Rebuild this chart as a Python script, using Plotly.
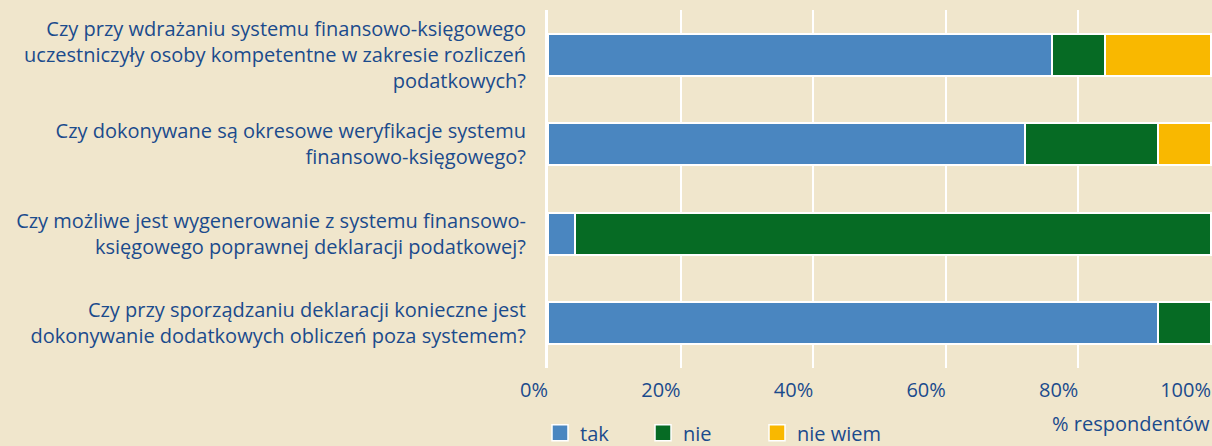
import plotly.graph_objects as go

categories = [
    "Czy przy wdrażaniu systemu finansowo-księgowego<br>uczestniczyły osoby kompetentne w zakresie rozliczeń<br>podatkowych?",
    "Czy dokonywane są okresowe weryfikacje systemu<br>finansowo-księgowego?",
    "Czy możliwe jest wygenerowanie z systemu finansowo-<br>księgowego poprawnej deklaracji podatkowej?",
    "Czy przy sporządzaniu deklaracji konieczne jest<br>dokonywanie dodatkowych obliczeń poza systemem?",
]
tak = [76, 72, 4, 92]
nie = [8, 20, 96, 8]
nie_wiem = [16, 8, 0, 0]
series_names = ["tak", "nie", "nie wiem"]
x_ticks = [0, 20, 40, 60, 80, 100]
x_tick_labels = ["0%", "20%", "40%", "60%", "80%", "100%"]
x_title = "% respondentów"

colors = ["#4A86C0", "#066B24", "#F9B800"]
bg = "#F0E6CC"
txt = "#1B4B8C"
font_family = "'Open Sans', 'Noto Sans', sans-serif"
fs = 20

fig = go.Figure()
for name, vals, col in zip(series_names, [tak, nie, nie_wiem], colors):
    fig.add_trace(go.Bar(
        y=categories, x=vals, name=name, orientation="h",
        marker=dict(color=col, line=dict(color="white", width=2)),
        showlegend=False,
    ))

# legend entries (square swatches)
legend_ids = ["legend", "legend2", "legend3"]
for name, col, lid in zip(series_names, colors, legend_ids):
    fig.add_trace(go.Scatter(
        x=[None], y=[None], mode="markers", name=name,
        marker=dict(symbol="square", size=16, color=col, line=dict(color="white", width=1.5)),
        showlegend=True, legend=lid,
    ))

leg_common = dict(orientation="h", bgcolor="rgba(0,0,0,0)", font=dict(size=fs, color=txt, family=font_family),
                  yanchor="middle", y=-0.181, xanchor="left", borderwidth=0)
fig.update_layout(
    legend=dict(x=(540 - 548) / 664, **leg_common),
    legend2=dict(x=(643 - 548) / 664, **leg_common),
    legend3=dict(x=(757 - 548) / 664, **leg_common),
)

fig.update_layout(
    width=1212, height=446,
    margin=dict(l=548, r=0, t=10, b=78, autoexpand=False),
    paper_bgcolor=bg, plot_bgcolor=bg,
    barmode="stack", bargap=0.53,
    font=dict(family=font_family, color=txt, size=fs),
    xaxis=dict(
        range=[0, 100.15], tickvals=x_ticks, ticktext=x_tick_labels,
        showgrid=True, gridcolor="white", gridwidth=2,
        zeroline=False, showline=False, ticks="", ticklabelstandoff=8,
        ticklabelposition="outside left",
        tickfont=dict(size=fs, color=txt, family=font_family), fixedrange=True,
    ),
    yaxis=dict(
        categoryorder="array", categoryarray=categories[::-1],
        showgrid=False, zeroline=False, showline=True, linecolor="white", linewidth=3,
        ticks="", ticklabelstandoff=15,
        tickfont=dict(size=fs, color=txt, family=font_family), fixedrange=True,
    ),
    annotations=[dict(
        text=x_title, xref="paper", yref="paper", x=1.0, y=-0.156,
        xanchor="right", yanchor="middle", showarrow=False,
        font=dict(size=fs, color=txt, family=font_family),
    )],
)

fig.write_html("out.html", config={"displayModeBar": False},
               post_script="document.body.style.margin='0px';document.body.style.overflow='hidden';")
